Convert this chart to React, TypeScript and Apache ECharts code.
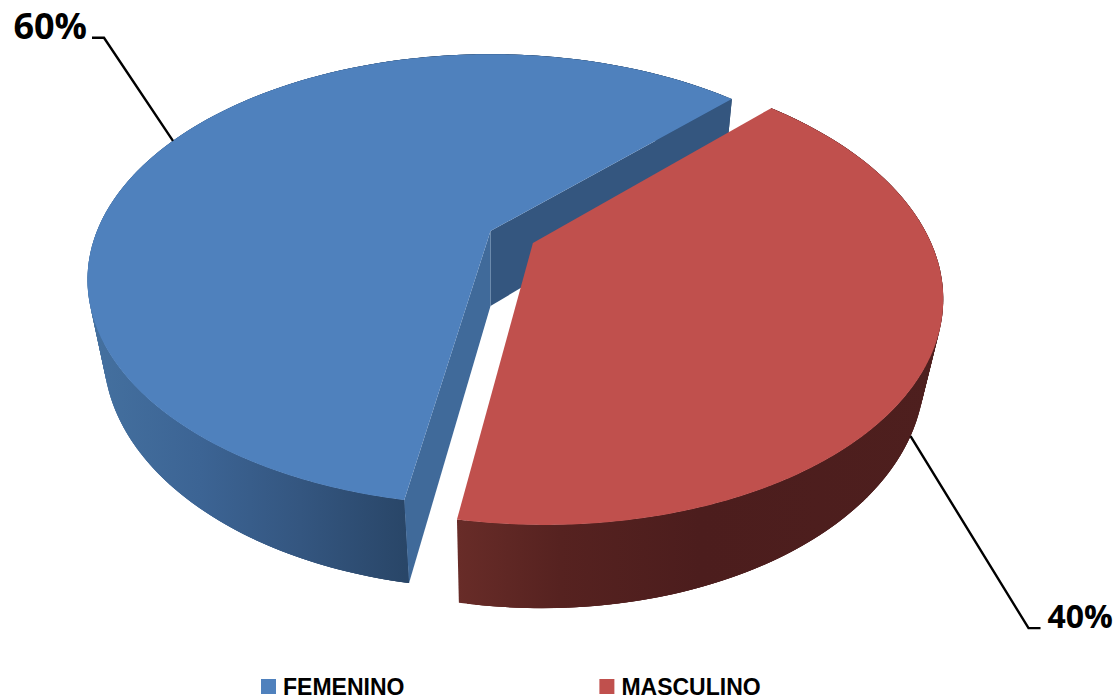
import React, { useEffect, useRef } from "react";
import * as echarts from "echarts";

const categories = ["FEMENINO", "MASCULINO"];
const shares = [59.74, 40.26];
const topColors = ["#4f81bd", "#c0504d"];
const explode = [0, 0.12];
const startDeg = 45;

// Pie plane -> screen homographies for the top and the bottom rim of the disc
const TOP = { x0: 490.5, y0: 231, a: 393.5, b: 215, k: 0.216 };
const BOT = { x0: 490.5, y0: 306, a: 379, b: 225.9, k: 0.2 };

const sideStops: [number, string][][] = [
  [[95, "#44709f"], [200, "#3c6494"], [300, "#345680"], [405, "#294668"]],
  [[457, "#682c28"], [560, "#562220"], [700, "#4c1d1d"], [940, "#4e1f1e"]],
];
const wallColors: (string | null)[][] = [["#34567f", "#406a9a"], [null, null]];

const labelFonts = [36, 32];
const labelOffsets = [[-86, -115], [137, 179]];
const leaderElbows = [[-69, -103], [118, 192]];
const leaderEnds = [[-81, -103], [130, 192]];

const project = (p: typeof TOP, u: number, v: number) => {
  const w = 1 - p.k * v;
  return [p.x0 + (p.a * u) / w, p.y0 + (p.b * v) / w];
};

const sliceItem = (index: number) => {
  const total = shares.reduce((s, n) => s + n, 0);
  const before = shares.slice(0, index).reduce((s, n) => s + n, 0);
  const a0 = startDeg + (before / total) * 360;
  const a1 = a0 + (shares[index] / total) * 360;
  const mid = (((a0 + a1) / 2) * Math.PI) / 180;
  const ou = explode[index] * Math.cos(mid);
  const ov = -explode[index] * Math.sin(mid);
  const rim = (deg: number) => {
    const r = (deg * Math.PI) / 180;
    return [ou + Math.cos(r), ov - Math.sin(r)];
  };
  const top = (q: number[]) => project(TOP, q[0], q[1]);
  const bot = (q: number[]) => project(BOT, q[0], q[1]);
  const degs: number[] = [];
  for (let d = a0; d < a1; d += 1) degs.push(d);
  degs.push(a1);

  const stops = sideStops[index];
  const x0 = stops[0][0];
  const x1 = stops[stops.length - 1][0];
  const wallFill = {
    type: "linear",
    global: true,
    x: x0,
    y: 0,
    x2: x1,
    y2: 0,
    colorStops: stops.map(([x, color]) => ({ offset: (x - x0) / (x1 - x0), color })),
  };

  const children: any[] = [];
  // outer wall: overlapping strips sharing one gradient, so that the outline follows the tangents
  for (let i = 0; i < degs.length - 1; i++) {
    const p = rim(degs[i]);
    const q = rim(degs[Math.min(i + 3, degs.length - 1)]);
    children.push({
      type: "polygon",
      shape: { points: [top(p), top(q), bot(q), bot(p)] },
      style: { fill: wallFill },
      silent: true,
    });
  }
  // inner walls
  const centre = [ou, ov];
  [a0, a1].forEach((d, i) => {
    const fill = wallColors[index][i];
    if (!fill) return;
    const e = rim(d);
    children.push({
      type: "polygon",
      shape: { points: [top(centre), top(e), bot(e), bot(centre)] },
      style: { fill },
      silent: true,
    });
  });
  // top face
  const faceDegs: number[] = [];
  for (let d = a0; d < a1; d += 0.5) faceDegs.push(d);
  faceDegs.push(a1);
  children.push({
    type: "polygon",
    shape: { points: [top(centre), ...faceDegs.map((d) => top(rim(d)))] },
    style: { fill: topColors[index] },
    silent: true,
  });
  // leader line and label
  const anchorDeg = (a0 + a1) / 2;
  const anchor = index === 0 ? top(rim(anchorDeg)) : bot(rim(anchorDeg));
  children.push({
    type: "polyline",
    shape: {
      points: [
        anchor,
        [anchor[0] + leaderElbows[index][0], anchor[1] + leaderElbows[index][1]],
        [anchor[0] + leaderEnds[index][0], anchor[1] + leaderEnds[index][1]],
      ],
    },
    style: { stroke: "#000", lineWidth: 2.4, fill: "none" },
    silent: true,
  });
  children.push({
    type: "text",
    style: {
      text: `${Math.round((shares[index] / total) * 100)}%`,
      x: anchor[0] + labelOffsets[index][0],
      y: anchor[1] + labelOffsets[index][1],
      fill: "#000",
      font: `bold ${labelFonts[index]}px "Open Sans"`,
      textAlign: index === 0 ? "right" : "left",
      textVerticalAlign: "middle",
    },
    silent: true,
  });
  return { type: "group", children };
};

export default function App() {
  const ref = useRef<HTMLDivElement>(null);
  useEffect(() => {
    document.body.style.margin = "0";
    document.body.style.background = "#fff";
    const chart = echarts.init(ref.current!, undefined, { renderer: "svg" });
    chart.setOption({
      animation: false,
      backgroundColor: "#fff",
      legend: {
        show: true,
        left: 261,
        top: 675,
        padding: 0,
        itemWidth: 15,
        itemHeight: 15,
        itemGap: 195,
        icon: "rect",
        selectedMode: false,
        data: categories,
        textStyle: {
          color: "#000",
          fontFamily: "Liberation Sans",
          fontWeight: "bold",
          fontSize: 23,
          padding: [0, 0, 0, 2],
        },
      },
      series: categories.map((name, i) => ({
        type: "custom",
        name,
        coordinateSystem: "none",
        silent: true,
        itemStyle: { color: topColors[i] },
        data: [[shares[i]]],
        renderItem: () => sliceItem(i),
      })),
    });
    return () => chart.dispose();
  }, []);
  return <div ref={ref} style={{ width: 1115, height: 699 }} />;
}
